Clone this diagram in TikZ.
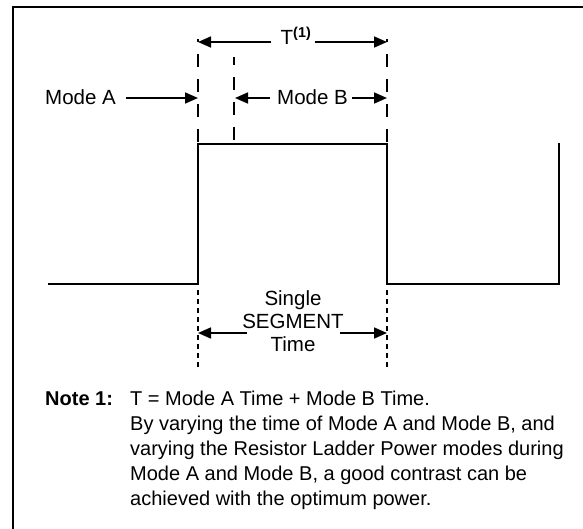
\documentclass[tikz,border=0pt]{standalone}
\usepackage{fontspec}
\setmainfont{Liberation Sans}
\usetikzlibrary{arrows.meta}
\begin{document}
\begin{tikzpicture}[x=1pt,y=-1pt,
  lbl/.style={font=\fontsize{20.5}{23}\selectfont, inner sep=0pt},
  arr/.style={-{Triangle[length=13pt,width=11pt]}, line width=1.7pt},
  wave/.style={line width=1.8pt},
  longdash/.style={line width=1.4pt, dash pattern=on 13pt off 12pt},
  shortdash/.style={line width=1.4pt, dash pattern=on 5pt off 4pt},
  frame/.style={line width=2.2pt}]
\useasboundingbox (0,0) rectangle (583,529);
% frame (top and left edges)
\draw[frame] (13,529) -- (13,7) -- (583,7);
% waveform
\draw[wave] (48,284) -- (198,284) -- (198,144) -- (387,144) -- (387,284) -- (559,284) -- (559,143);
% dashed guides (upper)
\draw[longdash, dash phase=10pt] (198,39) -- (198,144);
\draw[longdash, dash phase=10pt] (387,39) -- (387,144);
\draw[longdash, dash phase=5pt] (234,57) -- (234,144);
% dashed guides (lower)
\draw[shortdash] (198,290) -- (198,368);
\draw[shortdash] (387,290) -- (387,368);
% T^(1)
\node[lbl, anchor=base] (T) at (296,45) {T\textsuperscript{\textbf{(1)}}};
\coordinate (tL) at (198,42);
\coordinate (tR) at (387,42);
\draw[arr] (T.west |- tL) ++(-10pt,0) coordinate (tLs) (tLs) -- (tL);
\draw[arr] (T.east |- tR) ++(4pt,0) coordinate (tRs) (tRs) -- (tR);
% Mode A
\node[lbl, anchor=base west] (mA) at (45,105) {Mode A};
\coordinate (mAe) at (198,98);
\draw[arr] (mA.east |- mAe) ++(10pt,0) -- (mAe);
% Mode B
\node[lbl, anchor=base west] (mB) at (277,105) {Mode B};
\coordinate (mBl) at (235,98);
\coordinate (mBr) at (387,98);
\draw[arr] (mB.west |- mBl) ++(-7pt,0) -- (mBl);
\draw[arr] (mB.east |- mBr) ++(4pt,0) -- (mBr);
% Single SEGMENT Time
\node[lbl, anchor=base, align=center] (seg) at (293,351) {Single\\SEGMENT\\Time};
\coordinate (sL) at (198,333);
\coordinate (sR) at (387,333);
\draw[arr] (seg.west |- sL) ++(5pt,0) -- (sL);
\draw[arr] (seg.east |- sR) ++(-4pt,0) -- (sR);
% Note
\node[lbl, anchor=base west, font=\fontsize{20}{25}\selectfont\bfseries] (note) at (45,405) {Note 1:};
\node[lbl, anchor=north west, align=left, font=\fontsize{20}{25}\selectfont] (ntext) at (130,390.5) {T = Mode A Time + Mode B Time.\\
By varying the time of Mode A and Mode B, and\\
varying the Resistor Ladder Power modes during\\
Mode A and Mode B, a good contrast can be\\
achieved with the optimum power.};
\end{tikzpicture}
\end{document}
